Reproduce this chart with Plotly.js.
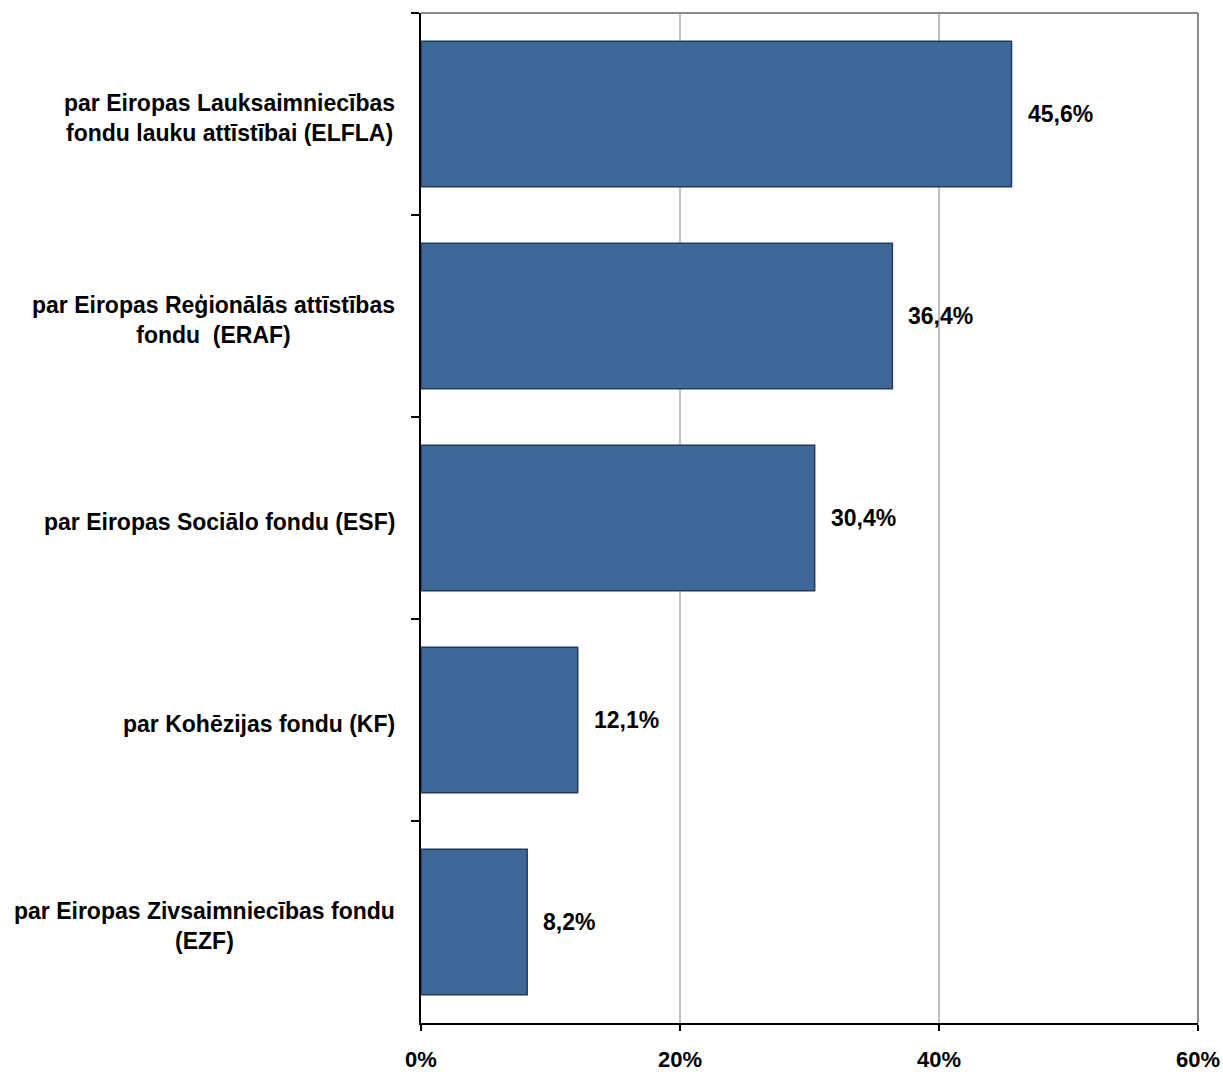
<!DOCTYPE html>
<html><head><meta charset="utf-8">
<script src="https://cdn.plot.ly/plotly-3.0.1.min.js"></script>
<style>html,body{margin:0;padding:0;background:#fff}#c{width:1223px;height:1072px}</style>
</head><body><div id="c"></div>
<script>
const categories = [
  "par Eiropas Lauksaimniecības<br>fondu lauku attīstībai (ELFLA)",
  "par Eiropas Reģionālās attīstības<br>fondu  (ERAF)",
  "par Eiropas Sociālo fondu (ESF)",
  "par Kohēzijas fondu (KF)",
  "par Eiropas Zivsaimniecības fondu<br>(EZF)"
];
const values = [0.456, 0.364, 0.304, 0.121, 0.082];
const xTicks = [0, 0.2, 0.4, 0.6];

const fmt = v => (v*100).toFixed(1).replace('.', ',') + '%';
const font = {family: 'Liberation Sans, Arial, sans-serif', size: 22, color: '#000', weight: 'bold'};
const lfont = {family: 'Liberation Sans, Arial, sans-serif', size: 23, color: '#000', weight: 'bold'};
const dfont = {family: 'Liberation Sans, Arial, sans-serif', size: 23, color: '#000', weight: 'bold'};

const trace = {
  type: 'bar', orientation: 'h',
  x: values, y: categories,
  marker: {color: '#3E6899', line: {color: '#22395A', width: 1.5}},
  hoverinfo: 'none'
};

const annotations = [];
categories.forEach((c, i) => {
  annotations.push({x: values[i], y: c, xref: 'x', yref: 'y', text: fmt(values[i]),
    showarrow: false, xanchor: 'left', xshift: 14, yshift: 0, font: dfont});
  annotations.push({x: 0, y: c, xref: 'paper', yref: 'y', text: c, showarrow: false,
    xanchor: 'right', xshift: -24, yshift: -4, align: 'center', font: lfont});
});

const layout = {
  width: 1223, height: 1072,
  margin: {l: 421, r: 25, t: 13, b: 49},
  paper_bgcolor: '#fff', plot_bgcolor: '#fff',
  showlegend: false, bargap: 0.28,
  font: font,
  xaxis: {range: [0, 0.6], tickvals: xTicks, tickformat: '.0%', showgrid: true,
    gridcolor: '#BFBFBF', gridwidth: 1.5, zeroline: false, showline: true, linecolor: '#000', linewidth: 2,
    ticks: 'outside', ticklen: 6, tickcolor: '#000', tickwidth: 1.5, ticklabelstandoff: 10,
    tickfont: font, fixedrange: true},
  yaxis: {type: 'category', autorange: 'reversed', showticklabels: false, tickson: 'boundaries',
    ticks: 'outside', ticklen: 8, tickcolor: '#000', tickwidth: 1.5, showgrid: false, zeroline: false,
    showline: true, linecolor: '#000', linewidth: 2, fixedrange: true},
  shapes: [
    {type: 'line', xref: 'paper', yref: 'paper', x0: 0, x1: 1, y0: 1, y1: 1, line: {color: '#8C8C8C', width: 2}},
    {type: 'line', xref: 'paper', yref: 'paper', x0: 1, x1: 1, y0: 0, y1: 1, line: {color: '#8C8C8C', width: 2}}
  ],
  annotations: annotations
};
Plotly.newPlot('c', [trace], layout, {staticPlot: true, displayModeBar: false});
</script></body></html>
